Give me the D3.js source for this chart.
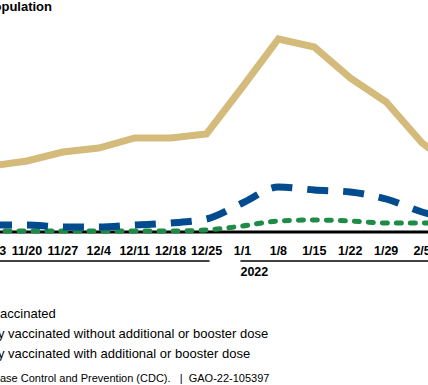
<!DOCTYPE html>
<html>
<head>
<meta charset="utf-8">
<script src="https://cdn.jsdelivr.net/npm/d3@7"></script>
<style>
  body { margin: 0; background: #fff; }
  svg { display: block; font-family: "Liberation Sans", Arial, sans-serif; }
</style>
</head>
<body>
<div id="vis"></div>
<script>
const weeks = ["11/13", "11/20", "11/27", "12/4", "12/11", "12/18", "12/25", "1/1", "1/8", "1/15", "1/22", "1/29", "2/5", "2/12"];
const unvaccinated = [66, 71, 80, 84, 94, 94, 98, 145, 193, 185, 154, 130, 89, 62];
const noBooster = [7, 7, 5, 5, 7, 9, 13, 29, 45, 42, 40, 33, 20, 12];
const withBooster = [1, 1, 1, 1, 1, 1, 2, 6, 11, 12, 11, 9, 9, 8];
const years = [{ label: "2021", first: "11/13", last: "12/25" }, { label: "2022", first: "1/1", last: "2/12" }];
const legendLabels = [
    "Unvaccinated",
    "Fully vaccinated without additional or booster dose",
    "Fully vaccinated with additional or booster dose"
];
const titleText = "Weekly cases per 100,000 population";
const sourceText = "Source: GAO analysis of Centers for Disease Control and Prevention (CDC).   |  GAO-22-105397";

const width = 428, height = 385;
const svg = d3.select("#vis").append("svg")
    .attr("width", width)
    .attr("height", height);

const x = d3.scalePoint().domain(weeks).range([-9, 458]);
const y = d3.scaleLinear().domain([0, 200]).range([232, 32]);

// title (cut off on the left like the source)
svg.append("text")
    .attr("x", 52).attr("y", 10.5)
    .attr("text-anchor", "end")
    .style("font-size", "13px").style("font-weight", "bold")
    .text(titleText);

// baseline
svg.append("line")
    .attr("x1", -100).attr("x2", width + 10)
    .attr("y1", y(0)).attr("y2", y(0))
    .attr("stroke", "#000").attr("stroke-width", 3);

const series = [
    { values: unvaccinated, color: "#d4bb7c", width: 7, dash: null, cap: "butt", curve: d3.curveLinear },
    { values: noBooster, color: "#014b8e", width: 7, dash: "21 15", cap: "butt", curve: d3.curveMonotoneX },
    { values: withBooster, color: "#1f8b46", width: 5, dash: "5 9", cap: "round", curve: d3.curveMonotoneX }
];

series.slice().reverse().forEach(s => {
    const line = d3.line()
        .x((d, i) => x(weeks[i]))
        .y(d => y(d))
        .curve(s.curve);
    svg.append("path")
        .datum(s.values)
        .attr("d", line)
        .attr("fill", "none")
        .attr("stroke", s.color)
        .attr("stroke-width", s.width)
        .attr("stroke-linecap", s.cap)
        .attr("stroke-linejoin", "miter")
        .attr("stroke-dasharray", s.dash);
});

// week labels
svg.selectAll("text.week")
    .data(weeks)
    .enter().append("text")
    .attr("class", "week")
    .attr("x", d => x(d))
    .attr("y", 254.5)
    .attr("text-anchor", "middle")
    .style("font-size", "12.5px").style("font-weight", "bold")
    .text(d => d);

// year brackets
years.forEach((yr, i) => {
    const x0 = i === 0 ? x(yr.first) - 80 : x(yr.first) - 2;
    const x1 = i === 0 ? x(yr.last) + 3 : x(yr.last) + 40;
    svg.append("line")
        .attr("x1", x0).attr("x2", x1)
        .attr("y1", 261).attr("y2", 261)
        .attr("stroke", "#000").attr("stroke-width", 1.5);
    svg.append("text")
        .attr("x", x0).attr("y", 276)
        .style("font-size", "12.5px").style("font-weight", "bold")
        .text(yr.label);
});

// legend
const legend = svg.append("g");
legendLabels.forEach((label, i) => {
    const s = series[i];
    const ly = 317.5 + i * 20;
    legend.append("line")
        .attr("x1", -70).attr("x2", -30)
        .attr("y1", ly - 4).attr("y2", ly - 4)
        .attr("stroke", s.color)
        .attr("stroke-width", s.width)
        .attr("stroke-dasharray", s.dash);
    legend.append("text")
        .attr("x", -23).attr("y", ly)
        .style("font-size", "13px")
        .text(label);
});

// source line, shifted so "ase Control" starts at the left edge
const source = svg.append("text")
    .attr("x", 0).attr("y", 381.5)
    .style("font-size", "11px")
    .style("white-space", "pre")
    .attr("fill", "#000")
    .text(sourceText);
const cut = sourceText.indexOf("ase Control");
const shift = source.node().getSubStringLength(0, cut);
source.attr("x", -shift);
</script>
</body>
</html>
